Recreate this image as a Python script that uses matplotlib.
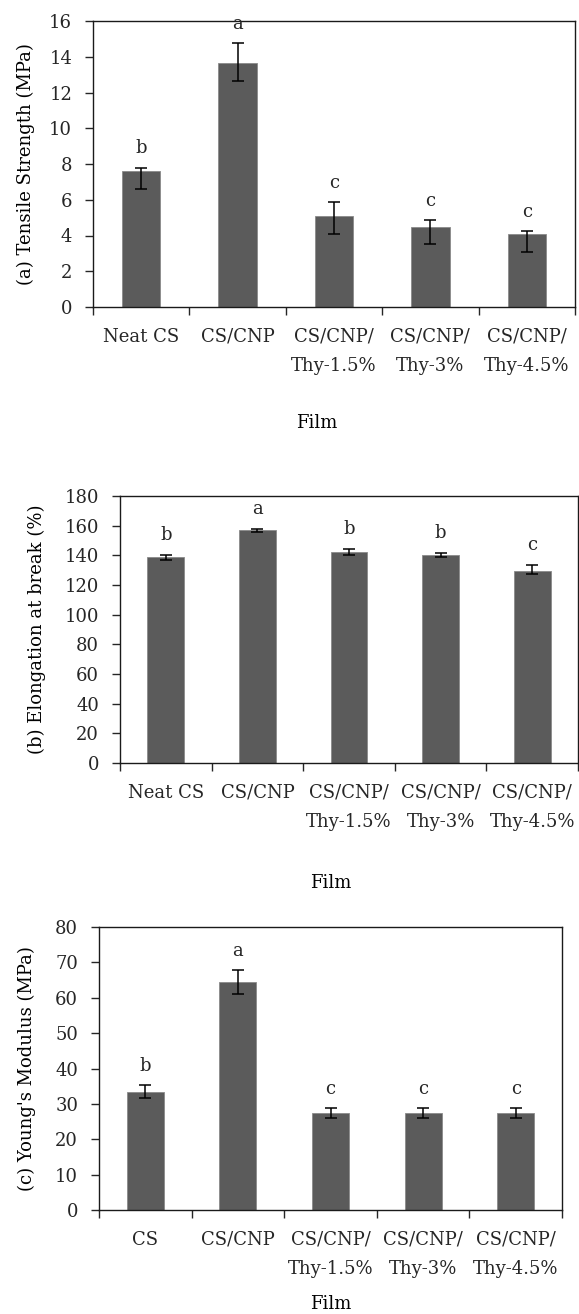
import matplotlib.pyplot as plt
import numpy as np

# data
films_a = ['Neat CS', 'CS/CNP', 'CS/CNP/\nThy-1.5%', 'CS/CNP/\nThy-3%', 'CS/CNP/\nThy-4.5%']
films_c = ['CS', 'CS/CNP', 'CS/CNP/\nThy-1.5%', 'CS/CNP/\nThy-3%', 'CS/CNP/\nThy-4.5%']

tensile = [7.6, 13.65, 5.1, 4.5, 4.1]
tensile_lo = [1.0, 1.0, 1.0, 1.0, 1.0]
tensile_hi = [0.2, 1.1, 0.75, 0.35, 0.15]
tensile_grp = ['b', 'a', 'c', 'c', 'c']

elong = [138.7, 157.0, 142.2, 140.3, 129.4]
elong_lo = [1.8, 1.0, 2.0, 1.5, 1.8]
elong_hi = [1.8, 1.0, 2.3, 1.5, 4.2]
elong_grp = ['b', 'a', 'b', 'b', 'c']

young = [33.4, 64.5, 27.4, 27.4, 27.4]
young_lo = [1.7, 3.3, 1.4, 1.4, 1.4]
young_hi = [1.8, 3.3, 1.4, 1.4, 1.4]
young_grp = ['b', 'a', 'c', 'c', 'c']

plt.rcParams['font.family'] = ['DejaVu Serif']
plt.rcParams['font.size'] = 13
plt.rcParams['text.color'] = '#262626'
plt.rcParams['xtick.color'] = '#262626'
plt.rcParams['ytick.color'] = '#262626'

bar_color = '#5b5b5b'
W, H = 579, 1314
fig = plt.figure(figsize=(W / 100, H / 100), dpi=100)


def make_axes(left, top, right, bottom):
    # pixel box -> figure fraction
    return fig.add_axes([left / W, 1 - bottom / H, (right - left) / W, (bottom - top) / H])


def panel(ax, labels, vals, lo, hi, grp, ymax, ystep, ylabel, ylab_x, film_xy):
    x = np.arange(len(vals))
    ax.bar(x, vals, width=0.4, color=bar_color, edgecolor='#8a8a8a', linewidth=0.6, zorder=2)
    ax.errorbar(x, vals, yerr=[lo, hi], fmt='none', ecolor='black', elinewidth=1.1,
                capsize=4, capthick=1.1, zorder=3)
    for xi, v, h, g in zip(x, vals, hi, grp):
        ax.annotate(g, (xi, v + h), xytext=(0, 14), textcoords='offset points',
                    ha='center', va='center')
    ax.set_xlim(-0.5, len(vals) - 0.5)
    ax.set_ylim(0, ymax)
    ax.set_yticks(np.arange(0, ymax + ystep / 2, ystep))
    ax.set_xticks(x)
    ax.set_xticklabels(labels, linespacing=1.8)
    ax.set_xticks(np.arange(-0.5, len(vals), 1), minor=True)
    ax.tick_params(axis='x', which='major', length=0, pad=15)
    ax.tick_params(axis='x', which='minor', length=6, width=1, direction='out')
    ax.tick_params(axis='y', length=6, width=1, direction='out', pad=9)
    for s in ax.spines.values():
        s.set_linewidth(1)
        s.set_color('#1a1a1a')
    ax.set_ylabel(ylabel)
    ax.yaxis.set_label_coords(ylab_x, 0.5)
    ax.set_xlabel('Film')
    ax.xaxis.set_label_coords(film_xy[0], film_xy[1])


ax1 = make_axes(93, 21, 575, 307)
panel(ax1, films_a, tensile, tensile_lo, tensile_hi, tensile_grp, 16, 2,
      '(a) Tensile Strength (MPa)', -0.120, (0.465, -0.375))

ax2 = make_axes(120, 496, 578, 763)
panel(ax2, films_a, elong, elong_lo, elong_hi, elong_grp, 180, 20,
      '(b) Elongation at break (%)', -0.161, (0.46, -0.415))

ax3 = make_axes(99, 927, 562, 1210)
panel(ax3, films_c, young, young_lo, young_hi, young_grp, 80, 10,
      "(c) Young's Modulus (MPa)", -0.136, (0.5, -0.302))

plt.savefig('out.png', dpi=100)
